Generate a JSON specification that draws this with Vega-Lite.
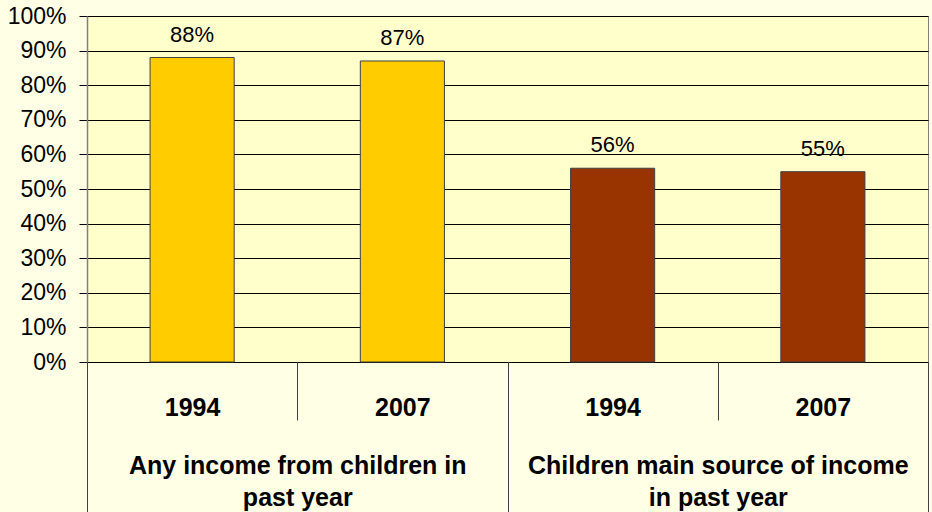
{
  "$schema": "https://vega.github.io/schema/vega-lite/v6.json",
  "autosize": "none",
  "width": 841,
  "height": 346,
  "padding": {"left": 87, "top": 16, "right": 4, "bottom": 150},
  "background": "#FFFFE6",
  "config": {
    "view": {"fill": "#FFFFCC", "stroke": "#808080", "strokeWidth": 1},
    "font": "Liberation Sans",
    "axisY": {
      "title": null, "format": ".0%",
      "values": [0, 0.1, 0.2, 0.3, 0.4, 0.5, 0.6, 0.7, 0.8, 0.9, 1],
      "labelOverlap": false,
      "grid": true, "gridColor": "#000000", "gridOpacity": 1, "gridWidth": 1,
      "domain": true, "domainColor": "#808080", "domainWidth": 1.5,
      "tickSize": 8, "tickColor": "#000000", "tickWidth": 1,
      "labelPadding": 13, "labelFont": "Liberation Sans", "labelFontSize": 23,
      "labelColor": "#000000"
    }
  },
  "data": {
    "values": [
      {"cat": "a1994", "group": "Any income from children in|past year", "value": 0.88, "label": "88%"},
      {"cat": "a2007", "group": "Any income from children in|past year", "value": 0.87, "label": "87%"},
      {"cat": "b1994", "group": "Children main source of income|in past year", "value": 0.56, "label": "56%"},
      {"cat": "b2007", "group": "Children main source of income|in past year", "value": 0.55, "label": "55%"}
    ]
  },
  "resolve": {"scale": {"x": "independent"}, "axis": {"x": "independent"}},
  "layer": [
    {
      "mark": {"type": "bar", "opacity": 0},
      "encoding": {
        "x": {
          "field": "group", "type": "nominal", "sort": null,
          "scale": {"paddingInner": 0, "paddingOuter": 0},
          "axis": {
            "orient": "bottom",
            "title": null, "domain": false, "grid": false,
            "ticks": true, "tickBand": "extent", "tickSize": 150, "tickColor": "#404040", "tickWidth": 1,
            "labelPadding": -59, "labelAngle": 0,
            "labelExpr": "split(datum.label, '|')",
            "labelFont": "Liberation Sans", "labelFontSize": 25, "labelFontWeight": "bold",
            "labelColor": "#000000", "labelLimit": 0, "labelLineHeight": 32,
            "labelBaseline": "top"
          }
        },
        "y": {
          "field": "value", "type": "quantitative",
          "scale": {"domain": [0, 1], "nice": false},
          "axis": {"title": null, "format": ".0%", "values": [0, 0.1, 0.2, 0.3, 0.4, 0.5, 0.6, 0.7, 0.8, 0.9, 1]}
        }
      }
    },
    {
      "encoding": {
        "x": {
          "field": "cat", "type": "nominal", "sort": null,
          "scale": {"paddingInner": 0, "paddingOuter": 0},
          "axis": {
            "orient": "bottom",
            "title": null, "domain": false, "grid": false,
            "ticks": true, "tickBand": "extent", "tickSize": 58, "tickColor": "#404040", "tickWidth": 1,
            "labelPadding": -25, "labelAngle": 0,
            "labelExpr": "slice(datum.label, 1)",
            "labelFont": "Liberation Sans", "labelFontSize": 25, "labelFontWeight": "bold",
            "labelColor": "#000000", "labelBaseline": "top"
          }
        },
        "y": {
          "field": "value", "type": "quantitative",
          "scale": {"domain": [0, 1], "nice": false},
          "axis": {"title": null, "format": ".0%", "values": [0, 0.1, 0.2, 0.3, 0.4, 0.5, 0.6, 0.7, 0.8, 0.9, 1]}
        }
      },
      "layer": [
        {
          "mark": {"type": "bar", "stroke": "#404040", "strokeWidth": 1, "width": {"band": 0.4}},
          "encoding": {
            "color": {
              "field": "group", "type": "nominal", "legend": null,
              "scale": {"range": ["#FFCC00", "#993300"]}
            }
          }
        },
        {
          "mark": {"type": "text", "baseline": "alphabetic", "dy": -16, "fontSize": 22, "font": "Liberation Sans", "color": "#000000"},
          "encoding": {"text": {"field": "label"}}
        }
      ]
    }
  ]
}
